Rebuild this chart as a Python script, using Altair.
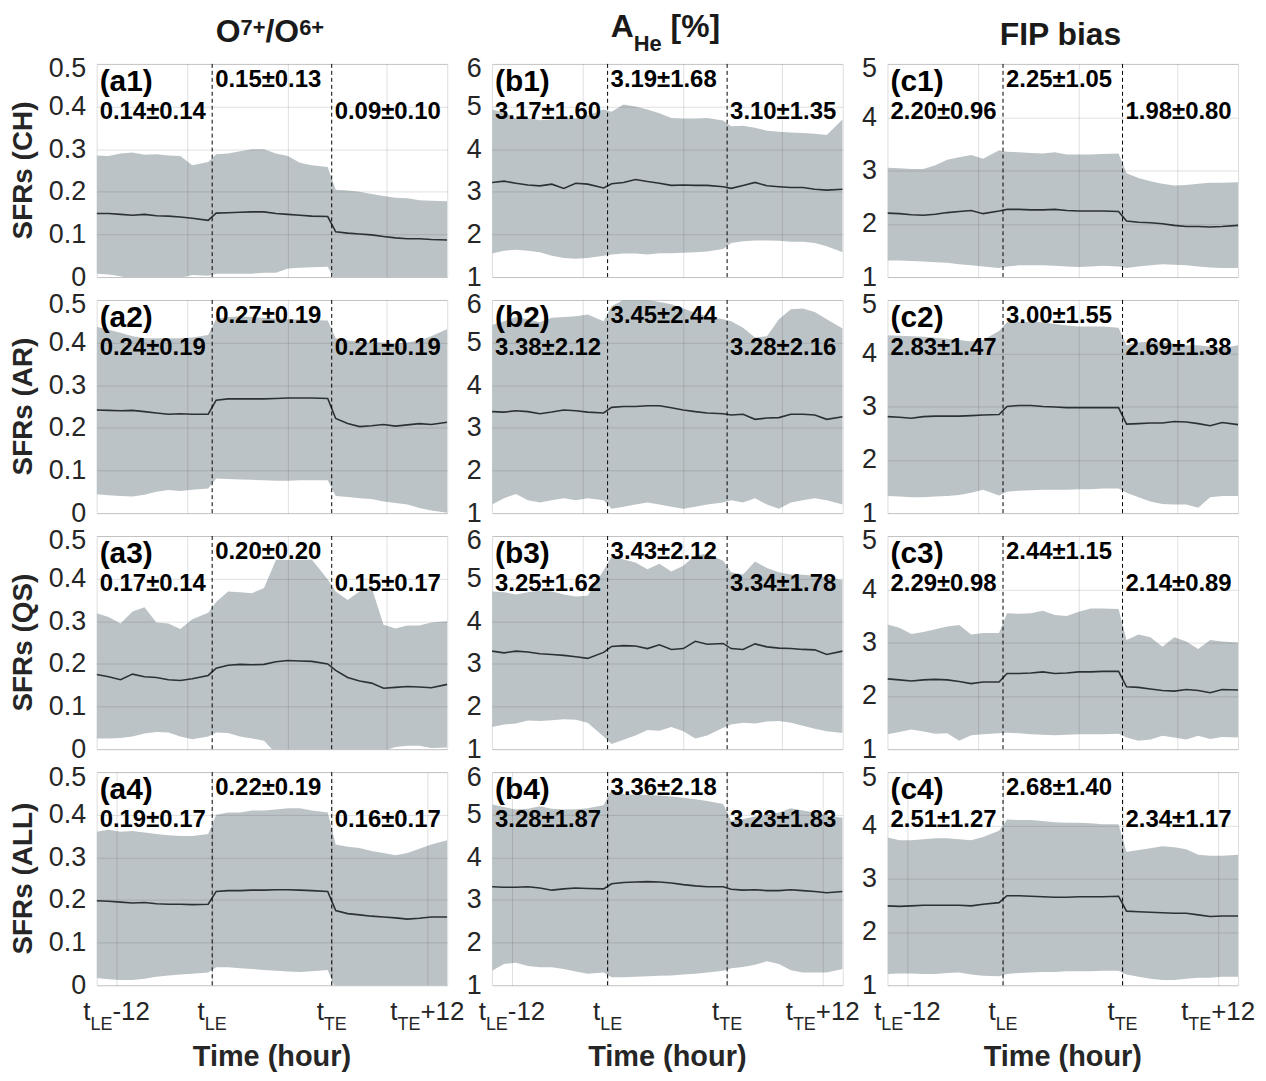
import altair as alt
import pandas as pd

# ---------------- data ----------------
T = [-14.5, -13, -11.5, -10, -8.5, -7, -5.5, -4, -2.5, -0.5,
     0.5, 2, 3.5, 5, 6.5, 8, 9.5, 11, 12.5, 14.5,
     15.5, 17, 18.5, 20, 21.5, 23, 24.5, 26, 27.5, 29.5]

A1_HI = [0.285, 0.284, 0.290, 0.292, 0.287, 0.288, 0.285, 0.284, 0.262, 0.270, 0.288, 0.290, 0.295, 0.300, 0.300, 0.290, 0.284, 0.268, 0.262, 0.258, 0.205, 0.203, 0.200, 0.195, 0.190, 0.186, 0.185, 0.180, 0.179, 0.178]
A1_MEAN = [0.149, 0.149, 0.147, 0.145, 0.147, 0.144, 0.143, 0.141, 0.138, 0.133, 0.150, 0.151, 0.152, 0.153, 0.153, 0.149, 0.147, 0.145, 0.143, 0.142, 0.106, 0.103, 0.101, 0.099, 0.095, 0.092, 0.090, 0.090, 0.088, 0.087]
A1_LO = [0.008, 0.006, 0.002, -0.005, -0.005, -0.005, -0.004, -0.002, 0.005, 0.003, 0.008, 0.008, 0.008, 0.008, 0.010, 0.010, 0.020, 0.022, 0.023, 0.024, -0.010, -0.012, -0.013, -0.014, -0.012, -0.012, -0.013, -0.012, -0.012, -0.013]

A2_HI = [0.437, 0.430, 0.423, 0.415, 0.410, 0.410, 0.410, 0.410, 0.412, 0.418, 0.456, 0.460, 0.461, 0.460, 0.458, 0.456, 0.455, 0.454, 0.453, 0.452, 0.410, 0.405, 0.402, 0.400, 0.400, 0.398, 0.400, 0.405, 0.415, 0.432]
A2_MEAN = [0.242, 0.241, 0.240, 0.241, 0.238, 0.235, 0.232, 0.233, 0.232, 0.232, 0.265, 0.268, 0.268, 0.268, 0.268, 0.269, 0.270, 0.270, 0.270, 0.269, 0.222, 0.210, 0.203, 0.205, 0.208, 0.204, 0.207, 0.210, 0.208, 0.213]
A2_LO = [0.044, 0.042, 0.040, 0.039, 0.043, 0.050, 0.054, 0.052, 0.055, 0.058, 0.081, 0.080, 0.079, 0.078, 0.077, 0.076, 0.076, 0.077, 0.077, 0.077, 0.040, 0.038, 0.035, 0.033, 0.027, 0.024, 0.020, 0.012, 0.006, 0.001]

A3_HI = [0.319, 0.310, 0.295, 0.323, 0.333, 0.297, 0.295, 0.282, 0.305, 0.320, 0.345, 0.370, 0.368, 0.366, 0.378, 0.444, 0.444, 0.444, 0.445, 0.398, 0.370, 0.350, 0.370, 0.380, 0.292, 0.283, 0.290, 0.290, 0.297, 0.300]
A3_MEAN = [0.175, 0.170, 0.163, 0.176, 0.170, 0.168, 0.163, 0.161, 0.165, 0.173, 0.190, 0.197, 0.199, 0.198, 0.199, 0.205, 0.208, 0.207, 0.206, 0.200, 0.185, 0.168, 0.160, 0.155, 0.143, 0.145, 0.147, 0.146, 0.144, 0.152]
A3_LO = [0.025, 0.025, 0.026, 0.030, 0.037, 0.040, 0.039, 0.030, 0.023, 0.030, 0.039, 0.038, 0.030, 0.025, 0.020, -0.010, -0.012, -0.010, -0.008, -0.010, -0.010, -0.012, -0.010, -0.006, -0.004, 0.005, 0.008, 0.008, 0.003, 0.004]

A4_HI = [0.360, 0.365, 0.360, 0.362, 0.358, 0.355, 0.352, 0.350, 0.350, 0.355, 0.400, 0.405, 0.405, 0.410, 0.410, 0.412, 0.415, 0.415, 0.410, 0.405, 0.330, 0.325, 0.322, 0.315, 0.310, 0.305, 0.310, 0.320, 0.330, 0.340]
A4_MEAN = [0.198, 0.197, 0.195, 0.193, 0.194, 0.191, 0.190, 0.190, 0.189, 0.190, 0.220, 0.222, 0.222, 0.223, 0.223, 0.224, 0.224, 0.223, 0.222, 0.220, 0.175, 0.168, 0.165, 0.162, 0.160, 0.158, 0.155, 0.157, 0.160, 0.160]
A4_LO = [0.017, 0.014, 0.012, 0.012, 0.015, 0.020, 0.023, 0.025, 0.027, 0.030, 0.042, 0.042, 0.040, 0.038, 0.036, 0.034, 0.032, 0.031, 0.033, 0.036, -0.010, -0.012, -0.012, -0.013, -0.012, -0.012, -0.013, -0.012, -0.012, -0.012]

B1_HI = [4.93, 4.86, 4.72, 4.73, 4.68, 4.70, 4.73, 4.72, 4.79, 4.93, 4.88, 5.05, 5.00, 4.93, 4.84, 4.73, 4.72, 4.72, 4.73, 4.67, 4.54, 4.55, 4.50, 4.43, 4.41, 4.39, 4.38, 4.36, 4.33, 4.70]
B1_MEAN = [3.22, 3.25, 3.20, 3.16, 3.14, 3.18, 3.08, 3.20, 3.18, 3.09, 3.19, 3.22, 3.29, 3.24, 3.20, 3.15, 3.16, 3.15, 3.15, 3.12, 3.08, 3.15, 3.22, 3.14, 3.12, 3.10, 3.10, 3.06, 3.04, 3.06]
B1_LO = [1.55, 1.62, 1.64, 1.62, 1.58, 1.50, 1.45, 1.43, 1.45, 1.50, 1.53, 1.55, 1.55, 1.53, 1.56, 1.56, 1.57, 1.58, 1.60, 1.66, 1.80, 1.84, 1.86, 1.86, 1.85, 1.83, 1.83, 1.80, 1.72, 1.58]

B2_HI = [5.41, 5.50, 5.60, 5.55, 5.48, 5.58, 5.60, 5.62, 5.66, 5.50, 5.85, 6.00, 6.05, 6.00, 5.95, 5.90, 5.80, 5.70, 5.62, 5.55, 5.50, 5.35, 5.12, 5.15, 5.55, 5.78, 5.80, 5.72, 5.55, 5.33]
B2_MEAN = [3.38, 3.37, 3.40, 3.38, 3.33, 3.37, 3.42, 3.40, 3.37, 3.35, 3.48, 3.50, 3.50, 3.52, 3.52, 3.47, 3.42, 3.38, 3.35, 3.33, 3.30, 3.32, 3.20, 3.23, 3.24, 3.32, 3.32, 3.30, 3.20, 3.26]
B2_LO = [1.20, 1.35, 1.45, 1.30, 1.25, 1.30, 1.35, 1.30, 1.35, 1.30, 1.10, 1.15, 1.20, 1.25, 1.20, 1.15, 1.10, 1.15, 1.20, 1.25, 1.30, 1.25, 1.35, 1.20, 1.10, 1.25, 1.30, 1.35, 1.30, 1.20]

B3_HI = [4.70, 4.68, 4.63, 4.68, 4.72, 4.70, 4.63, 4.58, 4.60, 5.20, 5.52, 5.45, 5.38, 5.22, 5.35, 5.17, 5.30, 5.55, 5.58, 5.42, 5.15, 5.10, 5.40, 5.25, 5.15, 5.10, 5.09, 5.07, 5.03, 4.97]
B3_MEAN = [3.30, 3.26, 3.30, 3.28, 3.24, 3.22, 3.20, 3.17, 3.13, 3.27, 3.41, 3.43, 3.42, 3.36, 3.45, 3.34, 3.36, 3.53, 3.46, 3.48, 3.36, 3.34, 3.47, 3.40, 3.37, 3.36, 3.34, 3.33, 3.22, 3.30]
B3_LO = [1.52, 1.58, 1.60, 1.67, 1.66, 1.68, 1.70, 1.69, 1.62, 1.30, 1.12, 1.22, 1.32, 1.45, 1.43, 1.52, 1.42, 1.25, 1.32, 1.50, 1.58, 1.62, 1.60, 1.65, 1.66, 1.62, 1.55, 1.48, 1.42, 1.38]

B4_HI = [5.24, 5.18, 5.12, 5.14, 5.20, 5.14, 5.12, 5.13, 5.15, 5.22, 5.60, 5.48, 5.47, 5.46, 5.45, 5.43, 5.40, 5.36, 5.32, 5.25, 4.86, 4.90, 4.96, 5.00, 5.05, 5.15, 5.10, 5.05, 4.98, 4.93]
B4_MEAN = [3.31, 3.30, 3.30, 3.31, 3.28, 3.23, 3.26, 3.28, 3.27, 3.26, 3.38, 3.41, 3.42, 3.43, 3.42, 3.40, 3.36, 3.33, 3.31, 3.31, 3.25, 3.23, 3.24, 3.22, 3.22, 3.24, 3.22, 3.20, 3.17, 3.20]
B4_LO = [1.34, 1.50, 1.53, 1.45, 1.42, 1.42, 1.38, 1.32, 1.27, 1.30, 1.19, 1.19, 1.20, 1.21, 1.22, 1.23, 1.25, 1.27, 1.30, 1.34, 1.40, 1.43, 1.48, 1.56, 1.50, 1.35, 1.30, 1.30, 1.30, 1.38]

C1_HI = [3.05, 3.04, 3.03, 3.03, 3.10, 3.20, 3.25, 3.29, 3.22, 3.38, 3.35, 3.34, 3.33, 3.32, 3.34, 3.30, 3.30, 3.30, 3.31, 3.32, 2.95, 2.86, 2.80, 2.75, 2.72, 2.73, 2.75, 2.77, 2.77, 2.78]
C1_MEAN = [2.20, 2.19, 2.17, 2.16, 2.18, 2.21, 2.23, 2.25, 2.19, 2.24, 2.27, 2.27, 2.26, 2.26, 2.27, 2.25, 2.24, 2.24, 2.24, 2.23, 2.05, 2.03, 2.02, 2.00, 1.97, 1.95, 1.95, 1.94, 1.95, 1.97]
C1_LO = [1.31, 1.31, 1.30, 1.29, 1.28, 1.27, 1.24, 1.22, 1.20, 1.17, 1.20, 1.22, 1.22, 1.22, 1.21, 1.20, 1.19, 1.20, 1.21, 1.20, 1.17, 1.20, 1.22, 1.24, 1.23, 1.22, 1.20, 1.18, 1.17, 1.17]

C2_HI = [4.34, 4.33, 4.32, 4.31, 4.29, 4.27, 4.25, 4.22, 4.25, 4.42, 4.58, 4.59, 4.59, 4.58, 4.55, 4.52, 4.50, 4.50, 4.50, 4.48, 4.15, 4.20, 4.22, 4.20, 4.18, 4.15, 4.15, 4.12, 4.10, 4.15]
C2_MEAN = [2.81, 2.80, 2.78, 2.81, 2.82, 2.82, 2.82, 2.83, 2.84, 2.85, 3.00, 3.02, 3.02, 3.00, 2.99, 2.98, 2.98, 2.98, 2.98, 2.98, 2.67, 2.68, 2.69, 2.69, 2.72, 2.71, 2.68, 2.64, 2.70, 2.66]
C2_LO = [1.32, 1.31, 1.30, 1.30, 1.31, 1.32, 1.34, 1.38, 1.44, 1.33, 1.40, 1.42, 1.43, 1.44, 1.44, 1.44, 1.45, 1.45, 1.46, 1.46, 1.38, 1.30, 1.22, 1.17, 1.16, 1.16, 1.10, 1.30, 1.32, 1.32]

C3_HI = [3.34, 3.28, 3.16, 3.20, 3.25, 3.30, 3.33, 3.15, 3.18, 3.18, 3.55, 3.54, 3.55, 3.60, 3.52, 3.50, 3.58, 3.64, 3.64, 3.63, 3.05, 3.15, 3.10, 2.92, 3.10, 3.02, 2.88, 3.05, 3.02, 3.00]
C3_MEAN = [2.32, 2.30, 2.28, 2.30, 2.31, 2.30, 2.27, 2.23, 2.26, 2.26, 2.42, 2.42, 2.43, 2.45, 2.42, 2.43, 2.45, 2.45, 2.46, 2.46, 2.17, 2.16, 2.13, 2.10, 2.09, 2.12, 2.10, 2.06, 2.12, 2.11]
C3_LO = [1.28, 1.32, 1.37, 1.33, 1.29, 1.30, 1.16, 1.26, 1.28, 1.30, 1.31, 1.30, 1.28, 1.27, 1.26, 1.27, 1.28, 1.28, 1.28, 1.29, 1.22, 1.16, 1.18, 1.25, 1.22, 1.18, 1.25, 1.19, 1.23, 1.22]

C4_HI = [3.77, 3.72, 3.72, 3.74, 3.76, 3.76, 3.74, 3.72, 3.78, 3.90, 4.11, 4.10, 4.10, 4.08, 4.06, 4.05, 4.05, 4.04, 4.02, 4.02, 3.50, 3.54, 3.57, 3.61, 3.59, 3.55, 3.45, 3.43, 3.43, 3.45]
C4_MEAN = [2.49, 2.48, 2.49, 2.50, 2.50, 2.50, 2.50, 2.49, 2.52, 2.55, 2.68, 2.68, 2.67, 2.66, 2.65, 2.65, 2.66, 2.66, 2.66, 2.67, 2.39, 2.38, 2.37, 2.36, 2.35, 2.35, 2.32, 2.29, 2.30, 2.30]
C4_LO = [1.21, 1.22, 1.22, 1.21, 1.21, 1.23, 1.24, 1.20, 1.18, 1.17, 1.21, 1.23, 1.24, 1.25, 1.25, 1.26, 1.26, 1.26, 1.27, 1.27, 1.20, 1.16, 1.12, 1.10, 1.10, 1.12, 1.14, 1.14, 1.16, 1.16]

TAGS = [["(a1)", "(b1)", "(c1)"], ["(a2)", "(b2)", "(c2)"],
        ["(a3)", "(b3)", "(c3)"], ["(a4)", "(b4)", "(c4)"]]
STATS_A = [["0.14±0.14", "0.15±0.13", "0.09±0.10"],
           ["0.24±0.19", "0.27±0.19", "0.21±0.19"],
           ["0.17±0.14", "0.20±0.20", "0.15±0.17"],
           ["0.19±0.17", "0.22±0.19", "0.16±0.17"]]
STATS_B = [["3.17±1.60", "3.19±1.68", "3.10±1.35"],
           ["3.38±2.12", "3.45±2.44", "3.28±2.16"],
           ["3.25±1.62", "3.43±2.12", "3.34±1.78"],
           ["3.28±1.87", "3.36±2.18", "3.23±1.83"]]
STATS_C = [["2.20±0.96", "2.25±1.05", "1.98±0.80"],
           ["2.83±1.47", "3.00±1.55", "2.69±1.38"],
           ["2.29±0.98", "2.44±1.15", "2.14±0.89"],
           ["2.51±1.27", "2.68±1.40", "2.34±1.17"]]
ROW_TITLES = ["SFRs (CH)", "SFRs (AR)", "SFRs (QS)", "SFRs (ALL)"]

Y_DOMAINS = [[0, 0.5], [1, 6], [1, 5]]
Y_TICKS = [[0, 0.1, 0.2, 0.3, 0.4, 0.5], [1, 2, 3, 4, 5, 6], [1, 2, 3, 4, 5]]
X_DOMAIN = [-14.5, 29.5]
T_LE, T_TE = 0, 15
XGRID_TOP = [-3.125, 9.5, 21.875]
XTICK_VALUES = [-12, 0, 15, 27]
XTICK_LABELS = [("t", "LE", "-12"), ("t", "LE", ""), ("t", "TE", ""), ("t", "TE", "+12")]

SERIES = [[(A1_HI, A1_MEAN, A1_LO), (B1_HI, B1_MEAN, B1_LO), (C1_HI, C1_MEAN, C1_LO)],
          [(A2_HI, A2_MEAN, A2_LO), (B2_HI, B2_MEAN, B2_LO), (C2_HI, C2_MEAN, C2_LO)],
          [(A3_HI, A3_MEAN, A3_LO), (B3_HI, B3_MEAN, B3_LO), (C3_HI, C3_MEAN, C3_LO)],
          [(A4_HI, A4_MEAN, A4_LO), (B4_HI, B4_MEAN, B4_LO), (C4_HI, C4_MEAN, C4_LO)]]
STATS = [STATS_A, STATS_B, STATS_C]

# column titles: pieces of (text, kind)  kind: main / sup / sub
COL_TITLES = [
    [("O", "main"), ("7+", "sup"), ("/O", "main"), ("6+", "sup")],
    [("A", "main"), ("He", "sub"), (" [%]", "main")],
    [("FIP bias", "main")],
]

# ---------------- style ----------------
W, H = 352, 214
FONT = "Liberation Sans"
BAND = "#bcc3c6"
LINE = "#2b3236"
TXT = "#262626"

ARIAL = {'t': 0.278, 'L': 0.556, 'E': 0.667, 'T': 0.611, '-': 0.333, '+': 0.584}
ARIAL_B = {'O': 0.778, '/': 0.278, '+': 0.584, 'A': 0.722, 'H': 0.722, 'e': 0.556,
           '[': 0.333, '%': 0.889, ']': 0.333, ' ': 0.278, 'F': 0.611, 'I': 0.278,
           'P': 0.667, 'b': 0.611, 'i': 0.278, 'a': 0.556, 's': 0.556}


def tw(s, size, table):
    return sum(table.get(c, 0.556) for c in s) * size


def panel(r, c):
    hi, mean, lo = SERIES[r][c]
    df = pd.DataFrame({"t": T, "hi": hi, "mean": mean, "lo": lo})
    bottom = r == 3
    xs = alt.Scale(domain=X_DOMAIN, nice=False, zero=False)
    ys = alt.Scale(domain=Y_DOMAINS[c], nice=False, zero=False)
    ytop, ybot = Y_DOMAINS[c][1], Y_DOMAINS[c][0]
    xax = alt.Axis(values=XTICK_VALUES if bottom else XGRID_TOP, labels=False, ticks=False,
                   domain=False, grid=True, title=None, gridColor="#262626",
                   gridOpacity=0.15, zindex=1)
    yax = alt.Axis(values=Y_TICKS[c], labelFontSize=27, labelFont=FONT, labelColor=TXT,
                   labelPadding=11, ticks=False, domain=False, grid=True, title=None,
                   labelOverlap=False, gridColor="#262626", gridOpacity=0.15, zindex=1,
                   format="~g",
                   labelOffset={"condition": {"test": f"datum.value == {ytop}", "value": 5},
                                "value": {"expr": f"datum.value == {ybot} ? -2 : 0"}}
                   if False else
                   {"condition": {"test": f"datum.value == {ytop}", "value": 5}, "value": 0})
    X = alt.X("t:Q", scale=xs, axis=xax)

    layers = []
    layers.append(alt.Chart(df).mark_area(color=BAND, clip=True, opacity=1).encode(
        x=X, y=alt.Y("lo:Q", scale=ys, axis=yax), y2="hi:Q"))
    layers.append(alt.Chart(df).mark_line(color=LINE, strokeWidth=1.6, clip=True).encode(
        x=X, y=alt.Y("mean:Q", scale=ys, axis=yax)))
    layers.append(alt.Chart(pd.DataFrame({"t": [T_LE, T_TE]})).mark_rule(
        color="black", strokeDash=[4, 3], strokeWidth=1).encode(x=X))

    pre, mid, post = STATS[c][r]
    tdf = pd.DataFrame({"t": [X_DOMAIN[0], T_TE], "s": [pre, post]})
    layers.append(alt.Chart(tdf).mark_text(align="left", baseline="alphabetic", dx=3,
                                           fontSize=24, fontWeight="bold", font=FONT,
                                           color="black").encode(
        x=X, y=alt.value(55), text="s:N"))
    layers.append(alt.Chart(pd.DataFrame({"t": [T_LE], "s": [mid]})).mark_text(
        align="left", baseline="alphabetic", dx=3, fontSize=24, fontWeight="bold",
        font=FONT, color="black").encode(x=X, y=alt.value(23), text="s:N"))
    layers.append(alt.Chart(pd.DataFrame({"t": [X_DOMAIN[0]], "s": [TAGS[r][c]]})).mark_text(
        align="left", baseline="alphabetic", dx=3, fontSize=30, fontWeight="bold",
        font=FONT, color="black").encode(x=X, y=alt.value(27), text="s:N"))

    if c == 0:
        layers.append(alt.Chart(pd.DataFrame({"s": [ROW_TITLES[r]]})).mark_text(
            angle=270, align="center", baseline="middle", fontSize=28, fontWeight="bold",
            font=FONT, color=TXT).encode(x=alt.value(-73), y=alt.value(H / 2), text="s:N"))

    if r == 0:
        pieces = COL_TITLES[c]
        sizes = {"main": 32, "sup": 22, "sub": 22}
        base_main = [-22, -27, -19][c]
        offs = {"main": 0, "sup": -7, "sub": 14}
        total = sum(tw(s, sizes[k], ARIAL_B) for s, k in pieces)
        x0 = W / 2 - 2 - total / 2
        for s, k in pieces:
            lead = len(s) - len(s.lstrip())
            xx = x0 + tw(s[:lead], sizes[k], ARIAL_B)
            layers.append(alt.Chart(pd.DataFrame({"s": [s.strip()]})).mark_text(
                align="left", baseline="alphabetic", fontSize=sizes[k], fontWeight="bold",
                font=FONT, color="#1a1a1a").encode(
                x=alt.value(xx), y=alt.value(base_main + offs[k]), text="s:N"))
            x0 += tw(s, sizes[k], ARIAL_B)

    if bottom:
        for val, (a, sub, suf) in zip(XTICK_VALUES, XTICK_LABELS):
            wa, wsub, wsuf = tw(a, 26, ARIAL), tw(sub, 18, ARIAL), tw(suf, 26, ARIAL)
            start = -(wa + wsub + wsuf) / 2
            for s, size, dx, yb in [(a, 26, start, H + 35), (sub, 18, start + wa, H + 45),
                                    (suf, 26, start + wa + wsub, H + 35)]:
                if not s:
                    continue
                layers.append(alt.Chart(pd.DataFrame({"t": [val], "s": [s]})).mark_text(
                    align="left", baseline="alphabetic", dx=dx, fontSize=size, font=FONT,
                    color=TXT).encode(x=X, y=alt.value(yb), text="s:N"))
        layers.append(alt.Chart(pd.DataFrame({"s": ["Time (hour)"]})).mark_text(
            align="center", baseline="alphabetic", fontSize=29, fontWeight="bold",
            font=FONT, color=TXT).encode(x=alt.value(W / 2), y=alt.value(H + 81), text="s:N"))

    return alt.layer(*layers).properties(width=W, height=H)


panels = [panel(r, c) for r in range(4) for c in range(3)]
chart = alt.concat(*panels, columns=3, spacing={"row": 23, "column": 45}, bounds="flush")
chart = chart.properties(padding={"left": 1, "top": 0, "right": 2, "bottom": 2},
                         background="white")
chart = chart.configure_view(stroke="#333333", strokeWidth=1).configure(font=FONT)

chart.save("out.html", embed_options={"renderer": "svg", "actions": False})
